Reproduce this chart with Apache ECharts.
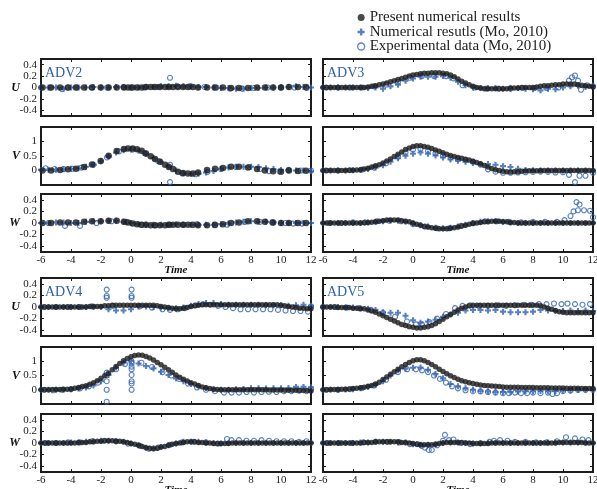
<!DOCTYPE html>
<html><head><meta charset="utf-8">
<script src="https://cdn.jsdelivr.net/npm/echarts@6/dist/echarts.min.js"></script>
<style>html,body{margin:0;padding:0;background:#fff}#c{width:597px;height:489px}</style>
</head><body><div id="c"></div>
<script>
// ---------- time bases ----------
const T_DENSE = [
-6,-5.75,-5.5,-5.25,
-5,-4.75,-4.5,-4.25,
-4,-3.75,-3.5,-3.25,
-3,-2.75,-2.5,-2.25,
-2,-1.75,-1.5,-1.25,
-1,-0.75,-0.5,-0.25,
0,0.25,0.5,0.75,
1,1.25,1.5,1.75,
2,2.25,2.5,2.75,
3,3.25,3.5,3.75,
4,4.25,4.5,4.75,
5,5.25,5.5,5.75,
6,6.25,6.5,6.75,
7,7.25,7.5,7.75,
8,8.25,8.5,8.75,
9,9.25,9.5,9.75,
10,10.25,10.5,10.75,
11,11.25,11.5,11.75,
12];
const T_SPARSE = [
-6,-5.5,-5,-4.5,-4,-3.5,
-3,-2.5,-2,-1.5,-1,-0.5,
0,0.5,1,1.5,2,2.5,
3,3.5,4,4.5,5,5.5,
6,6.5,7,7.5,8,8.5,
9,9.5,10,10.5,11,11.5,
12];
const T_ADV2 = [-5.9,-5.33,-4.73,-4.2,-3.67,-3.13,-2.6,-2.02,-1.49,-0.95,
-0.47,-0.2,0.11,0.4,0.71,1.0,1.31,1.6,1.93,2.27,
2.53,2.8,3.13,3.47,3.8,4.13,4.47,5.07,5.6,6.13,
6.67,7.2,7.8,8.4,8.93,9.47,10.0,10.53,11.13,11.67];

// ---------- tick labels ----------
const X_TICKS = [-6,-4,-2,0,2,4,6,8,10,12];
const UW_TICKS = [-0.4,-0.2,0,0.2,0.4];
const V_TICKS = [0,0.5,1];

// ---------- ADV2 ----------
const adv2U_pres = [0,0,0,0,0,0,0,0,0,0, 0,0,0,0,0,0.01,0.01,0.01,0.01,0.01,
0.01,0.01,0.01,0.01,0.01,0.01,0,0,0,0, -0.01,-0.01,-0.01,0,0,0,0,0.01,0.01,0.01];
const adv2V_pres = [0,0,0.02,0.04,0.06,0.12,0.21,0.33,0.51,0.67,
0.74,0.76,0.76,0.73,0.68,0.59,0.49,0.4,0.3,0.2,
0.12,0.05,-0.04,-0.09,-0.1,-0.1,-0.07,0.02,0.06,0.09,
0.13,0.13,0.1,0.05,0,-0.03,-0.04,0,-0.02,-0.01];
const adv2W_pres = [0,0,0.01,0.01,0.01,0.02,0.03,0.03,0.04,0.04,
0.02,0.01,-0.01,-0.02,-0.03,-0.03,-0.04,-0.04,-0.04,-0.04,
-0.03,-0.03,-0.03,-0.03,-0.03,-0.03,-0.04,-0.04,-0.03,-0.02,
0,0.01,0.03,0.03,0.02,0.01,0,0,0,0];
const adv2U_num = [
0,0,0,-0.02,0,0,
0,0.01,0,0,0.01,0.01,
0,0,0.01,0.01,0.02,0.02,
0.03,0.02,0.02,0.01,0.01,0,
-0.01,-0.01,-0.02,-0.02,-0.01,-0.01,
0,0,0.01,0.01,0.02,0.01,
0];
const adv2V_num = [
0.02,0.03,0.03,0.04,0.06,0.08,
0.13,0.2,0.32,0.48,0.62,0.7,
0.72,0.68,0.58,0.43,0.3,0.15,
0,-0.1,-0.12,-0.11,-0.07,-0.02,
0.05,0.1,0.13,0.13,0.13,0.12,
0.08,0.05,0.02,0.01,0,0,
-0.03];
const adv2W_num = [
0,0,0.01,0.01,0,0,
0.02,0.03,0.03,0.04,0.04,0.02,
0,-0.02,-0.03,-0.03,-0.03,-0.03,
-0.02,-0.03,-0.03,-0.03,-0.03,-0.03,
-0.02,-0.01,0.01,0.02,0.03,0.02,
0.02,0.01,0,0,0,0,
0];
const adv2U_exp = [[-6,0],[-5.4,0],[-4.6,-0.03],[-4.2,0],[-3.6,0],[-2.6,0],[-1.6,0],[-0.5,0.01],[0,0],[0.9,0],[1.8,0.01],[2.6,0.17],[3.1,0.02],[3.9,0.02],[4.9,0.01],[5.7,0],[6.6,-0.02],[7.4,-0.02],[8.2,-0.01],[9.1,0],[10,0],[10.9,0],[11.7,-0.01]];
const adv2V_exp = [[-5.7,0.08],[-5.1,0.05],[-4.5,0.05],[-3.9,0.06],[-3.3,0.1],[-2.5,0.2],[-1.6,0.45],[-0.8,0.66],[0.1,0.72],[0.9,0.6],[1.8,0.33],[2.6,0.2],[2.6,-0.4],[3.4,-0.1],[4.3,-0.13],[5.1,-0.05],[6.0,0.05],[7.0,0.12],[7.9,0.12],[8.6,0.05],[9.2,-0.02],[9.9,-0.03],[10.5,0.02],[11.3,0.0],[12,0.0]];
const adv2W_exp = [[-5.5,0],[-4.4,-0.05],[-3.4,-0.05],[-2.3,0.0],[-1.3,0.03],[-0.3,0.02],[0.7,-0.03],[1.6,-0.04],[2.6,-0.03],[3.5,-0.03],[4.4,-0.02],[5.6,-0.04],[6.4,-0.03],[7.6,0.02],[8.6,0.02],[9.4,0.01],[10.3,0],[10.8,-0.01],[11.4,-0.01]];

// ---------- ADV3 ----------
const adv3U_pres = [
0,0,0,0, 0,0,0,0, 0,0,0,0,
0.01,0.02,0.03,0.05, 0.06,0.08,0.1,0.12, 0.14,0.16,0.18,0.2,
0.22,0.23,0.24,0.25, 0.25,0.26,0.26,0.26, 0.25,0.24,0.22,0.19,
0.15,0.11,0.08,0.05, 0.02,0,-0.01,-0.02, -0.02,-0.02,-0.02,-0.02,
-0.02,-0.02,-0.01,-0.01, -0.01,0,0,0, 0,0.01,0.02,0.03,
0.03,0.04,0.05,0.05, 0.06,0.06,0.06,0.06, 0.05,0.04,0.03,0.02,
0.01];
const adv3V_pres = [
0,0,0,0, 0,0,0,0.01, 0.01,0.02,0.03,0.05,
0.08,0.12,0.16,0.2, 0.26,0.33,0.4,0.48, 0.56,0.64,0.72,0.78,
0.83,0.85,0.85,0.83, 0.8,0.76,0.71,0.66, 0.61,0.56,0.52,0.48,
0.45,0.42,0.39,0.36, 0.32,0.28,0.23,0.17, 0.12,0.07,0.03,0,
-0.03,-0.04,-0.05,-0.04, -0.04,-0.03,-0.02,-0.01, -0.01,-0.01,0,0,
0,0,0,0, 0,0,0,0, 0,0,0,0,
0];
const adv3W_pres = [
0,0,0,0, 0,0,0,0, 0,0,0,0.005,
0.01,0.015,0.02,0.03, 0.04,0.05,0.05,0.05, 0.05,0.04,0.03,0.02,
0,-0.02,-0.04,-0.06, -0.07,-0.08,-0.09,-0.1, -0.1,-0.1,-0.09,-0.08,
-0.07,-0.05,-0.04,-0.02, -0.01,0,0.01,0.02, 0.02,0.03,0.03,0.03,
0.02,0.02,0.01,0.01, 0,0,0,0, 0,0,0,0,
0,0,0,0, 0,0,0,0, 0,0,0,0,
0];
const adv3U_num = [
0,0,0,0,0,0,
-0.01,0,-0.02,0.02,0.05,0.12,
0.16,0.19,0.19,0.19,0.2,0.17,
0.1,0.04,0,-0.01,-0.01,-0.01,
-0.02,-0.02,-0.01,-0.02,-0.03,-0.05,
-0.02,-0.03,0,0.02,0.03,0.01,
0.03];
const adv3V_num = [
0,0,0,0,0.01,0.02,
0.05,0.1,0.18,0.3,0.42,0.51,
0.58,0.62,0.58,0.52,0.45,0.38,
0.34,0.3,0.26,0.22,0.22,0.2,
0.15,0.12,0.06,0.02,0.01,0,
0,0,0,0,0,0,
0];
const adv3W_num = [
0,0,0,0,0,0,
0.01,0.02,0.03,0.04,0.04,0.02,
-0.01,-0.04,-0.06,-0.08,-0.09,-0.08,
-0.06,-0.03,0,0.02,0.03,0.03,
0.02,0.01,0,0,0,0,
0,0,0,0,0,0,
0];
const adv3U_exp = [[-5.8,0],[-5,0],[-4.2,0],[-3.4,0],[-2.6,0.02],[-1.8,0.05],[-1,0.1],[-0.2,0.17],[0.6,0.2],[1.4,0.2],[2.2,0.2],[2.7,0.16],[3.3,0.04],[4.1,0],[4.9,-0.02],[5.7,-0.02],[6.5,-0.02],[7.3,-0.01],[8.1,-0.01],[8.9,-0.01],[9.7,0],[10.4,0.12],[10.6,0.18],[10.8,0.21],[11.0,0.12],[11.2,-0.04],[11.6,0.04],[12,0.02]];
const adv3V_exp = [[-5.8,0],[-5,0],[-4.2,0.01],[-3.4,0.03],[-2.6,0.1],[-1.8,0.25],[-1,0.48],[-0.5,0.62],[0,0.72],[0.5,0.74],[1,0.68],[1.5,0.6],[2,0.52],[2.5,0.45],[3,0.4],[3.5,0.36],[4,0.3],[4.5,0.2],[5,0.04],[5.5,-0.04],[6,-0.08],[6.5,-0.08],[7,-0.07],[7.5,-0.06],[8,-0.05],[8.5,-0.04],[9,-0.05],[9.5,-0.07],[10,-0.06],[10.4,-0.15],[10.8,-0.4],[11.1,-0.18],[11.5,-0.18],[12,-0.08]];
const adv3W_exp = [[-5.6,0],[-4.8,0],[-4,0.01],[-3.2,0.01],[-2.4,0.03],[-1.6,0.04],[-0.8,0.03],[0,-0.02],[0.8,-0.06],[1.6,-0.09],[2.4,-0.09],[3.2,-0.05],[4,0],[4.8,0.03],[5.6,0.03],[6.4,0.02],[7.2,0.01],[8,0.02],[8.8,0.02],[9.6,0.02],[10.1,0.05],[10.5,0.12],[10.7,0.2],[10.9,0.36],[11.1,0.32],[11.0,0.22],[11.4,0.22],[11.8,0.21],[12,0.1]];

// ---------- ADV4 ----------
const adv4U_pres = [
0,0,0,0, 0,0,0,0, 0,0,0,0,
0,0.01,0.01,0.01, 0.01,0.02,0.02,0.03, 0.03,0.03,0.03,0.03,
0.03,0.03,0.03,0.03, 0.03,0.03,0.03,0.02, 0.01,0,-0.01,-0.02,
-0.03,-0.03,-0.02,-0.01, 0.01,0.02,0.03,0.04, 0.04,0.04,0.04,0.04,
0.04,0.04,0.04,0.04, 0.04,0.04,0.04,0.04, 0.04,0.04,0.04,0.04,
0.04,0.04,0.04,0.04, 0.03,0.02,0.01,0, -0.01,-0.02,-0.02,-0.03,
-0.03];
const adv4V_pres = [
0,0,0,0.01, 0.01,0.01,0.02,0.02, 0.03,0.05,0.08,0.11,
0.14,0.19,0.25,0.32, 0.4,0.49,0.58,0.7, 0.82,0.92,1.02,1.1,
1.16,1.2,1.22,1.21, 1.17,1.11,1.04,0.96, 0.88,0.79,0.7,0.61,
0.52,0.44,0.37,0.31, 0.25,0.2,0.15,0.1, 0.07,0.04,0.02,0.01,
0,0,0,0, 0,0,0,0, 0,0,0,0,
0,-0.01,-0.01,-0.01, -0.01,-0.02,-0.02,-0.02, -0.02,-0.03,-0.03,-0.03,
-0.04];
const adv4W_pres = [
0,0,0,0, 0,0,0,0, 0,0,0.01,0.01,
0.01,0.02,0.02,0.03, 0.03,0.04,0.04,0.04, 0.03,0.03,0.02,0.01,
-0.01,-0.02,-0.04,-0.06, -0.08,-0.09,-0.1,-0.09, -0.07,-0.06,-0.04,-0.02,
-0.01,0,0.01,0.02, 0.02,0.02,0.01,0.01, 0,0,-0.01,-0.01,
-0.01,-0.01,-0.01,0, 0,0,0,0, 0,0,0,0,
0,0,0,0, 0,0,0,0, 0,0,0,0,
0];
const adv4U_num = [
0,0,0,0,0,0,
0,0,0,-0.04,-0.06,-0.06,
-0.04,0.01,0.01,0,-0.01,-0.02,
-0.02,-0.01,0.02,0.05,0.07,0.07,
0.05,0.04,0.04,0.04,0.04,0.04,
0.03,0.03,0.03,0.02,0.03,0.04,
0.02];
const adv4V_num = [
0,0,0,0,0.02,0.04,
0.08,0.15,0.3,0.52,0.78,0.95,
1.02,0.92,0.83,0.75,0.63,0.52,
0.4,0.3,0.2,0.12,0.06,0.02,
0,0,0.02,0.03,0.05,0.05,
0.04,0.05,0.05,0.06,0.1,0.1,
0.09];
const adv4W_num = [
0,0,0,0,0.01,0.01,
0.02,0.03,0.04,0.04,0.03,0.02,
-0.01,-0.04,-0.08,-0.09,-0.07,-0.04,
-0.01,0.02,0.02,0.02,0.01,0,
-0.01,0,0,0,0,0,
0,0,0,0,0,0,
0];
const adv4U_exp = [[-5.8,0],[-5,0],[-4.2,0],[-3.4,0],[-2.6,0.01],[-1.62,0.3],[-1.62,0.19],[-1.62,0.16],[-1.2,0.02],[0.04,0.3],[0.04,0.19],[0.04,0.16],[0.6,0.01],[1.4,-0.01],[2.1,-0.04],[2.6,-0.05],[3.1,-0.04],[3.6,-0.02],[4.3,0.03],[4.8,0.05],[5.3,0.04],[5.8,0.02],[6.3,0.0],[6.8,-0.02],[7.3,-0.04],[7.8,-0.04],[8.3,-0.04],[8.8,-0.04],[9.3,-0.04],[9.8,-0.05],[10.3,-0.06],[10.8,-0.07],[11.3,-0.07],[11.8,-0.08],[12,0.01]];
const adv4V_exp = [[-5.8,0],[-5.2,-0.02],[-4.6,0],[-4,0.02],[-3.4,0.05],[-2.8,0.12],[-2.2,0.25],[-1.62,0.6],[-1.62,0.52],[-1.62,0.3],[-1.62,0.0],[-1.62,-0.42],[-1,0.72],[-0.4,0.9],[0.04,1.0],[0.04,0.93],[0.04,0.81],[0.04,0.72],[0.04,0.52],[0.04,0.3],[0.04,0.22],[0.04,0.0],[0.7,0.95],[1.4,0.8],[2.1,0.62],[2.7,0.5],[3.2,0.38],[3.8,0.22],[4.4,0.08],[5,0.0],[5.6,-0.05],[6.2,-0.1],[6.7,-0.1],[7.2,-0.1],[7.7,-0.08],[8.2,-0.1],[8.7,-0.08],[9.2,-0.07],[9.7,-0.08],[10.2,-0.05],[10.7,-0.05],[11.2,-0.03],[11.7,-0.05],[12,0.02]];
const adv4W_exp = [[-5.7,0],[-5,0],[-4.2,0.01],[-3.4,0.01],[-2.6,0.03],[-1.8,0.04],[-1,0.03],[-0.2,-0.01],[0.6,-0.05],[1.2,-0.1],[1.8,-0.08],[2.6,-0.03],[3.4,0.01],[4.2,0.02],[5,0.01],[5.8,-0.01],[6.4,0.07],[6.7,0.05],[7.2,0.05],[7.7,0.04],[8.2,0.04],[8.7,0.05],[9.2,0.04],[9.7,0.03],[10.2,0.03],[10.7,0.03],[11.2,0.02],[11.7,0.03]];

// ---------- ADV5 ----------
const adv5U_pres = [
0,0,0,0, -0.01,-0.01,-0.01,-0.01, -0.02,-0.02,-0.03,-0.03,
-0.05,-0.07,-0.09,-0.12, -0.15,-0.18,-0.21,-0.24, -0.27,-0.3,-0.32,-0.34,
-0.35,-0.36,-0.36,-0.35, -0.34,-0.32,-0.29,-0.25, -0.21,-0.17,-0.13,-0.09,
-0.05,-0.02,0,0.02, 0.03,0.03,0.03,0.03, 0.03,0.03,0.03,0.03,
0.03,0.03,0.03,0.03, 0.03,0.03,0.03,0.03, 0.03,0.03,0.02,0,
-0.02,-0.04,-0.06,-0.08, -0.09,-0.1,-0.1,-0.1, -0.1,-0.1,-0.1,-0.1,
-0.1];
const adv5V_pres = [
0,0,0.01,0.01, 0.01,0.02,0.02,0.03, 0.04,0.05,0.07,0.09,
0.12,0.15,0.2,0.26, 0.36,0.45,0.54,0.63, 0.72,0.81,0.89,0.96,
1.02,1.05,1.05,1.02, 0.96,0.89,0.81,0.72, 0.64,0.56,0.49,0.43,
0.37,0.32,0.28,0.25, 0.22,0.19,0.17,0.15, 0.14,0.13,0.12,0.11,
0.1,0.09,0.09,0.09, 0.09,0.08,0.08,0.08, 0.08,0.07,0.07,0.07,
0.07,0.06,0.06,0.06, 0.06,0.05,0.05,0.05, 0.05,0.04,0.04,0.04,
0.04];
const adv5W_pres = [
0,0,0,0, 0,0,0,0, 0,0,0,0.01,
0.01,0.01,0.02,0.02, 0.02,0.02,0.02,0.02, 0.02,0.01,0.01,0,
-0.01,-0.02,-0.03,-0.03, -0.03,-0.03,-0.02,-0.01, 0,0.01,0.01,0.01,
0.01,0.01,0,0, -0.01,-0.01,-0.01,-0.01, -0.01,0,0,0,
0,0,0,0, 0,0,0,0, 0,0,0,0,
0,0,0,0.01, 0.01,0.01,0.01,0.01, 0.01,0.01,0,0,
0];
const adv5U_num = [
0,0,0,-0.01,-0.01,-0.02,
-0.03,-0.05,-0.09,-0.1,-0.1,-0.15,
-0.23,-0.27,-0.25,-0.22,-0.17,-0.13,
-0.1,-0.06,-0.05,-0.05,-0.06,-0.05,
-0.08,-0.09,-0.09,-0.09,-0.08,-0.05,
-0.06,-0.07,-0.07,-0.06,-0.07,-0.06,
-0.07];
const adv5V_num = [
0,0,0,0.01,0.02,0.05,
0.1,0.17,0.3,0.5,0.68,0.74,
0.77,0.78,0.7,0.55,0.4,0.2,
0.12,0.05,0,-0.04,-0.06,-0.08,
-0.08,-0.08,-0.06,-0.05,-0.05,-0.04,
-0.05,-0.04,-0.03,-0.02,-0.01,0,
0.01];
const adv5W_num = [
0,0,0,0,0,0.01,
0.01,0.02,0.02,0.02,0.01,0.01,
-0.02,-0.03,-0.03,-0.02,0,0.01,
0.01,0,-0.01,-0.01,0,0,
0,0,0,0,0,0,
0.01,0.01,0.01,0.01,0.01,0.01,
0];
const adv5U_exp = [[-6,0],[-5.2,0],[-4.4,-0.01],[-3.6,-0.02],[-2.8,-0.05],[-2,-0.1],[-1.2,-0.17],[-0.4,-0.25],[0.2,-0.3],[0.6,-0.3],[1.1,-0.26],[1.6,-0.2],[2.2,-0.12],[2.8,-0.02],[3.3,0.02],[3.8,0.03],[4.4,0.02],[5,0.02],[5.6,0.03],[6.2,0.02],[6.8,0.03],[7.4,0.04],[7.9,0.04],[8.4,0.05],[8.9,0.05],[9.4,0.06],[9.9,0.05],[10.3,0.06],[10.8,0.05],[11.3,0.04],[11.8,0.05]];
const adv5V_exp = [[-5.8,0],[-5,0],[-4.2,0.02],[-3.4,0.06],[-2.6,0.15],[-1.8,0.35],[-1,0.62],[-0.4,0.72],[0.2,0.72],[0.6,0.68],[1,0.62],[1.4,0.5],[1.8,0.38],[2.2,0.25],[2.6,0.12],[3,0.05],[3.5,-0.02],[4,-0.05],[4.5,-0.06],[5,-0.08],[5.5,-0.1],[6,-0.12],[6.4,-0.12],[6.8,-0.1],[7.2,-0.12],[7.6,-0.12],[8,-0.1],[8.5,-0.12],[9,-0.1],[9.3,-0.15],[9.6,-0.12],[10,-0.05],[10.5,-0.03],[11,0],[11.5,0],[12,0]];
const adv5W_exp = [[-5.7,0],[-4.9,0],[-4.1,0],[-3.3,0.01],[-2.5,0.02],[-1.7,0.02],[-0.9,0.01],[-0.2,-0.02],[0.3,-0.02],[0.58,-0.05],[0.8,-0.08],[1.05,-0.12],[1.25,-0.12],[1.6,-0.04],[2.0,0.04],[2.13,0.14],[2.4,0.05],[2.7,0.06],[3.2,0.0],[3.8,-0.02],[4.5,0.0],[5.1,0.02],[5.4,0.04],[5.8,0.05],[6.3,0.04],[6.8,0.02],[7.5,0.02],[8.2,0.01],[8.9,0.01],[9.6,0.03],[10.2,0.1],[10.8,0.08],[11.3,0.06],[11.7,0.05]];

// ---------- layout & styling ----------
const NAME_PRES = 'Present numerical results';
const NAME_NUM = 'Numerical resutls (Mo, 2010)';
const NAME_EXP = 'Experimental data (Mo, 2010)';
const BLUE = '#3060b2';
const DARK = '#1c1c1c';
const FONT = 'Liberation Serif';
const PLUS = 'path://M2.6,0H5.4V2.6H8V5.4H5.4V8H2.6V5.4H0V2.6H2.6Z';
const COL_LEFT = [41, 323];
const ROW_TOP = [59, 127, 194, 278, 347, 414];
const ROW_H = [57, 58, 58, 58, 57, 58];

const panels = [
  {label:'ADV2', col:0, block:0, t:T_ADV2, size:6.5,
   comps:[[adv2U_pres,adv2U_num,adv2U_exp],[adv2V_pres,adv2V_num,adv2V_exp],[adv2W_pres,adv2W_num,adv2W_exp]]},
  {label:'ADV3', col:1, block:0, t:T_DENSE, size:5.5,
   comps:[[adv3U_pres,adv3U_num,adv3U_exp],[adv3V_pres,adv3V_num,adv3V_exp],[adv3W_pres,adv3W_num,adv3W_exp]]},
  {label:'ADV4', col:0, block:1, t:T_DENSE, size:5.5,
   comps:[[adv4U_pres,adv4U_num,adv4U_exp],[adv4V_pres,adv4V_num,adv4V_exp],[adv4W_pres,adv4W_num,adv4W_exp]]},
  {label:'ADV5', col:1, block:1, t:T_DENSE, size:5.5,
   comps:[[adv5U_pres,adv5U_num,adv5U_exp],[adv5V_pres,adv5V_num,adv5V_exp],[adv5W_pres,adv5W_num,adv5W_exp]]}
];
const COMP_NAMES = ['U','V','W'];

const grids=[], xAxes=[], yAxes=[], series=[], titles=[];
const tickStyle = {inside:true, length:3, lineStyle:{color:DARK, width:1}};
const labelStyle = {color:'#222', fontFamily:FONT, fontSize:11, hideOverlap:false};
const noLine = {show:false, onZero:false};

panels.forEach(p => {
  titles.push({text:p.label, left:COL_LEFT[p.col]+4, top:ROW_TOP[p.block*3]+7, padding:0,
    textStyle:{color:BLUE, fontFamily:FONT, fontSize:14, fontWeight:'normal'}});
  for (let c=0;c<3;c++){
    const row = p.block*3+c;
    const gi = grids.length;
    const isV = c===1, isW = c===2;
    const yMin = -0.5, yMax = isV ? 1.5 : 0.5;
    const yTicks = isV ? V_TICKS : UW_TICKS;
    grids.push({left:COL_LEFT[p.col], top:ROW_TOP[row], width:270, height:ROW_H[row],
      outerBoundsMode:'none', containLabel:false,
      show:true, borderColor:DARK, borderWidth:2, backgroundColor:'transparent'});
    xAxes.push({gridIndex:gi, type:'value', min:-6, max:12, position:'bottom',
      axisLine:noLine, splitLine:{show:false},
      axisTick:Object.assign({customValues:X_TICKS}, tickStyle),
      axisLabel:Object.assign({show:isW, margin:3, customValues:X_TICKS}, labelStyle),
      name: isW ? 'Time' : '', nameLocation:'middle', nameGap:12.5, nameMoveOverlap:false,
      nameTextStyle:{fontFamily:FONT, fontStyle:'italic', fontWeight:'bold', fontSize:11, color:'#111'}});
    xAxes.push({gridIndex:gi, type:'value', min:-6, max:12, position:'top',
      axisLine:noLine, splitLine:{show:false},
      axisTick:Object.assign({customValues:X_TICKS}, tickStyle), axisLabel:{show:false}});
    yAxes.push({gridIndex:gi, type:'value', min:yMin, max:yMax, position:'left',
      axisLine:noLine, splitLine:{show:false},
      axisTick:Object.assign({customValues:yTicks}, tickStyle),
      axisLabel:Object.assign({show:p.col===0, margin:4, customValues:yTicks}, labelStyle),
      name: p.col===0 ? COMP_NAMES[c] : '', nameLocation:'middle', nameRotate:0, nameGap:21,
      nameMoveOverlap:false,
      nameTextStyle:{fontFamily:FONT, fontStyle:'italic', fontWeight:'bold', fontSize:12, color:'#111'}});
    yAxes.push({gridIndex:gi, type:'value', min:yMin, max:yMax, position:'right',
      axisLine:noLine, splitLine:{show:false},
      axisTick:Object.assign({customValues:yTicks}, tickStyle), axisLabel:{show:false}});
    const [pres, num, exp] = p.comps[c];
    const xi = gi*2, yi = gi*2;
    series.push({type:'scatter', name:NAME_NUM, xAxisIndex:xi, yAxisIndex:yi,
      symbol:PLUS, symbolSize:6, itemStyle:{color:BLUE},
      data:T_SPARSE.map((t,k)=>[t, num[k]])});
    series.push({type:'scatter', name:NAME_EXP, xAxisIndex:xi, yAxisIndex:yi,
      symbol:'circle', symbolSize:5, itemStyle:{color:'rgba(0,0,0,0)', borderColor:BLUE, borderWidth:1.1},
      data:exp});
    series.push({type:'scatter', name:NAME_PRES, xAxisIndex:xi, yAxisIndex:yi,
      symbol:'circle', symbolSize:p.size, itemStyle:{color:DARK},
      data:p.t.map((t,k)=>[t, pres[k]])});
  }
});

const chart = echarts.init(document.getElementById('c'), null, {renderer:'canvas'});
chart.setOption({
  animation:false,
  backgroundColor:'#fff',
  title:titles,
  legend:{orient:'vertical', left:357, top:10, itemWidth:7, itemHeight:7, itemGap:-0.5,
    padding:0, selectedMode:false,
    textStyle:{fontFamily:FONT, fontSize:15, color:'#222', lineHeight:13},
    data:[
      {name:NAME_PRES, icon:'circle', itemStyle:{color:DARK}},
      {name:NAME_NUM, icon:PLUS, itemStyle:{color:BLUE}},
      {name:NAME_EXP, icon:'circle', itemStyle:{color:'rgba(0,0,0,0)', borderColor:BLUE, borderWidth:1.3}}
    ]},
  grid:grids, xAxis:xAxes, yAxis:yAxes, series:series
});
</script>
</body></html>
